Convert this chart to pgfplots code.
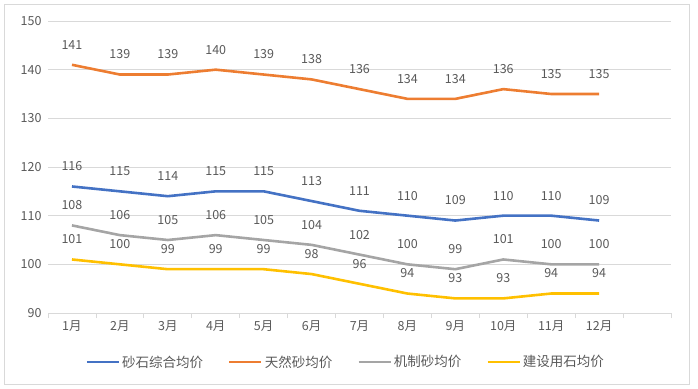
\documentclass[border=0pt]{standalone}
\usepackage{pgfplots}
\pgfplotsset{compat=1.18}
\usepackage{fontspec}
\setmainfont{Noto Sans CJK SC}
\definecolor{cblue}{HTML}{4472C4}
\definecolor{corange}{HTML}{ED7D31}
\definecolor{cgray}{HTML}{A5A5A5}
\definecolor{cyellow}{HTML}{FFC000}
\definecolor{ctext}{HTML}{595959}
\definecolor{cgrid}{HTML}{D9D9D9}
\begin{document}
\begin{tikzpicture}[x=1pt,y=1pt]
\path (0,0) rectangle (698,388);
\draw[cgrid, line width=0.8pt] (4,4) rectangle (689,384);
\begin{axis}[
  at={(48pt,75pt)}, anchor=south west,
  scale only axis, width=623pt, height=292pt,
  xmin=0.5, xmax=13.5, ymin=90, ymax=150,
  xtick={1,...,12},
  xticklabels={1月,2月,3月,4月,5月,6月,7月,8月,9月,10月,11月,12月},
  minor xtick={0.5,1.5,...,13.5},
  major tick length=0pt, minor tick length=5pt,
  xtick align=outside,
  minor x tick style={cgrid, line width=0.8pt},
  ytick={90,100,...,150},
  ytick style={draw=none},
  axis x line*=bottom, axis y line*=left,
  x axis line style={cgrid, line width=0.8pt, -},
  y axis line style={draw=none},
  ymajorgrids, major grid style={cgrid, line width=0.8pt},
  tick label style={font=\fontsize{12.5}{15}\selectfont, text=ctext},
  xticklabel style={yshift=-4pt},
  yticklabel style={xshift=-3pt},
  /pgf/number format/assume math mode=true,
  clip=false,
  nodes near coords,
  every node near coord/.append style={font=\fontsize{12.5}{15}\selectfont, text=ctext, anchor=center, yshift=20pt},
  legend columns=4,
  legend style={at={(0.478,-0.168)}, anchor=center, draw=none, fill=none,
    font=\fontsize{13.5}{16}\selectfont, text=ctext,
    /tikz/every even column/.append style={column sep=23pt}},
  legend image code/.code={\draw[#1, line width=2.6pt] (0pt,0pt) -- (32pt,0pt);},
  every axis plot/.append style={line width=2.6pt, mark=none},
]
\addplot[cblue] coordinates {(1,116)(2,115)(3,114)(4,115)(5,115)(6,113)(7,111)(8,110)(9,109)(10,110)(11,110)(12,109)};
\addplot[corange] coordinates {(1,141)(2,139)(3,139)(4,140)(5,139)(6,138)(7,136)(8,134)(9,134)(10,136)(11,135)(12,135)};
\addplot[cgray] coordinates {(1,108)(2,106)(3,105)(4,106)(5,105)(6,104)(7,102)(8,100)(9,99)(10,101)(11,100)(12,100)};
\addplot[cyellow] coordinates {(1,101)(2,100)(3,99)(4,99)(5,99)(6,98)(7,96)(8,94)(9,93)(10,93)(11,94)(12,94)};
\legend{砂石综合均价,天然砂均价,机制砂均价,建设用石均价}
\end{axis}
\end{tikzpicture}
\end{document}
